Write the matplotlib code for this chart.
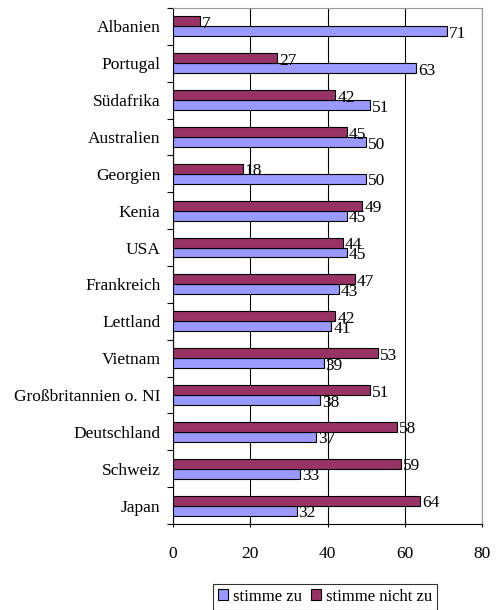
import numpy as np
import matplotlib
matplotlib.use("Agg")
import matplotlib.pyplot as plt

plt.rcParams['font.family'] = ['Liberation Serif', 'DejaVu Serif']

countries = ["Albanien", "Portugal", "Südafrika", "Australien", "Georgien",
             "Kenia", "USA", "Frankreich", "Lettland", "Vietnam",
             "Großbritannien o. NI", "Deutschland", "Schweiz", "Japan"]
stimme_zu = [71, 63, 51, 50, 50, 45, 45, 43, 41, 39, 38, 37, 33, 32]
stimme_nicht_zu = [7, 27, 42, 45, 18, 49, 44, 47, 42, 53, 51, 58, 59, 64]
x_ticks = [0, 20, 40, 60, 80]

fs = 12.5

fig = plt.figure(figsize=(4.97, 6.10), dpi=100)
ax = fig.add_axes([0.348, 0.141, 0.622, 0.846])

y = np.arange(len(countries))
h = 0.27
ax.barh(y + h / 2, stimme_zu, height=h, color='#9999FF', edgecolor='black',
        linewidth=0.8, label='stimme zu', zorder=3)
ax.barh(y - h / 2, stimme_nicht_zu, height=h, color='#993366',
        edgecolor='black', linewidth=0.8, label='stimme nicht zu', zorder=3)

# value labels just right of each bar end
for i in range(len(countries)):
    ax.text(stimme_zu[i] + 0.5, y[i] + h / 2 + 0.07, str(stimme_zu[i]),
            va='center', ha='left', fontsize=fs, zorder=4)
    ax.text(stimme_nicht_zu[i] + 0.5, y[i] - h / 2 + 0.07,
            str(stimme_nicht_zu[i]), va='center', ha='left', fontsize=fs,
            zorder=4)

ax.set_xlim(0, 80)
ax.set_ylim(len(countries) - 0.5, -0.5)
ax.set_xticks(x_ticks)
ax.set_xticklabels([str(t) for t in x_ticks], fontsize=fs)
ax.set_yticks(y)
ax.set_yticklabels(countries, fontsize=fs)
ax.set_yticks(np.arange(len(countries) + 1) - 0.5, minor=True)
ax.tick_params(axis='y', which='major', length=0, pad=9)
ax.tick_params(axis='y', which='minor', length=4, direction='out', width=0.8)
ax.tick_params(axis='x', which='major', length=4, direction='inout',
               width=0.8, pad=14)
ax.grid(axis='x', color='black', linewidth=0.8, zorder=0)

ax.spines['top'].set_color('#999999')
ax.spines['right'].set_color('#999999')
for s in ['left', 'bottom']:
    ax.spines[s].set_linewidth(0.8)

leg = fig.legend(loc='center', bbox_to_anchor=(0.654, 0.022), ncol=2,
                 fontsize=12, frameon=True, fancybox=False, edgecolor='black',
                 handlelength=0.6, handleheight=0.6, handletextpad=0.3,
                 columnspacing=0.5, borderpad=0.3, borderaxespad=0)
leg.get_frame().set_linewidth(0.8)

fig.savefig("out.png", dpi=100)
